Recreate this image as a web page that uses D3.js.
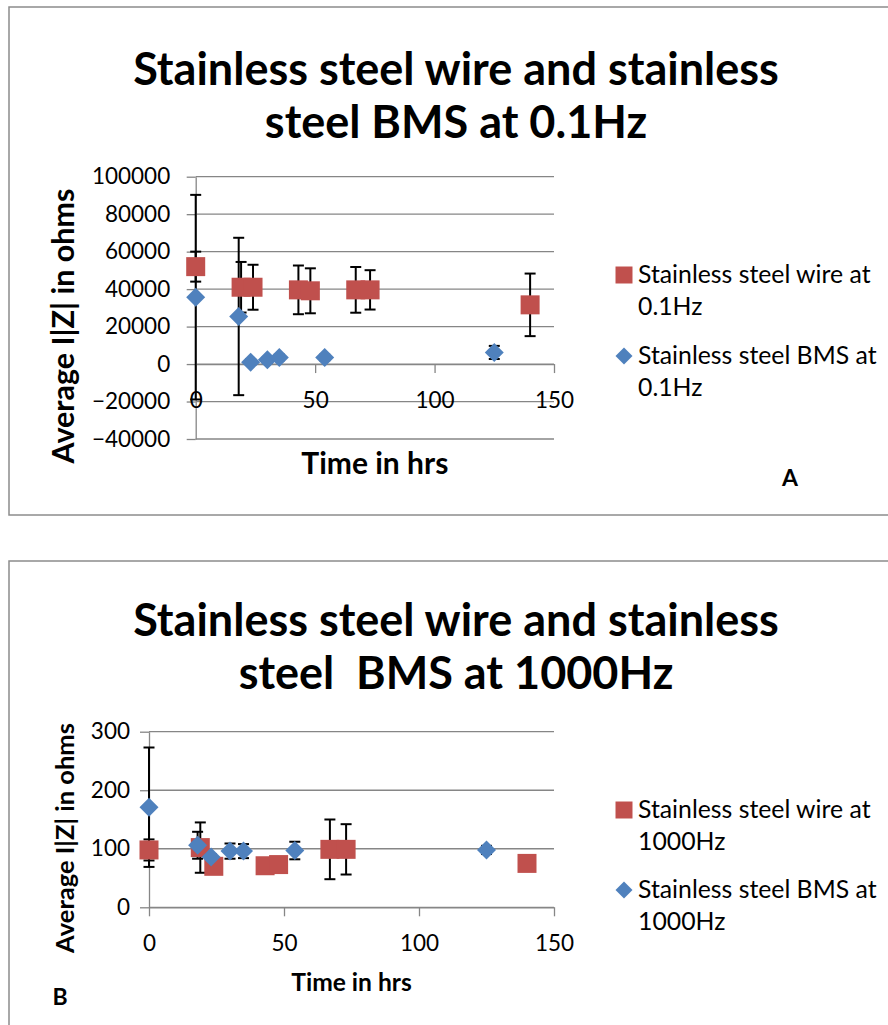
<!DOCTYPE html>
<html>
<head>
<meta charset="utf-8">
<script src="https://cdn.jsdelivr.net/npm/d3@7"></script>
<style>
  html, body { margin: 0; padding: 0; background: #fff; }
  svg { display: block; }
</style>
</head>
<body>
<svg id="chart" width="888" height="1025"></svg>
<script>
// ---- Panel A: |Z| at 0.1 Hz ----
const wireTimesA = [0, 19, 24, 43, 48, 67, 73, 140];
const wireZA     = [52000, 41000, 41000, 39600, 39100, 39600, 39600, 31600];
const wireErrA   = [8000, 13500, 12000, 13000, 12000, 12200, 10500, 16700];
const bmsTimesA  = [0, 18, 23, 30, 35, 54, 125];
const bmsZA      = [35700, 25400, 1000, 2300, 3500, 3500, 6200];
const bmsErrA    = [54600, 42000, 1500, 1500, 1500, 1500, 3500];
const yTicksA    = [-40000, -20000, 0, 20000, 40000, 60000, 80000, 100000];
const titleA     = ["Stainless steel wire and stainless", "steel BMS at 0.1Hz"];
const legendA    = [["Stainless steel wire at", "0.1Hz"], ["Stainless steel BMS at", "0.1Hz"]];

// ---- Panel B: |Z| at 1000 Hz ----
const wireTimesB = [0, 19, 24, 43, 48, 67, 73, 140];
const wireZB     = [98, 102, 70, 71, 73, 99, 99, 75];
const wireErrB   = [18, 43, 5, 5, 5, 51, 43, 5];
const bmsTimesB  = [0, 18, 23, 30, 35, 54, 125];
const bmsZB      = [171, 106, 86, 96, 96, 97, 98];
const bmsErrB    = [102, 23, 5, 13, 12, 15, 7];
const yTicksB    = [0, 100, 200, 300];
const titleB     = ["Stainless steel wire and stainless", "steel\u00a0\u00a0BMS at 1000Hz"];
const legendB    = [["Stainless steel wire at", "1000Hz"], ["Stainless steel BMS at", "1000Hz"]];

const xTicks = [0, 50, 100, 150];
const xTitle = "Time in hrs";
const yTitle = "Average I|Z| in ohms";

const FONT = "Lato, 'Open Sans', sans-serif";
const RED = "#C0504D", BLUE = "#4F81BD", GRID = "#868686";

const svg = d3.select("#chart");
svg.append("rect").attr("width", 888).attr("height", 1025).attr("fill", "#fff");

function drawPanel(p) {
  const g = svg.append("g");

  // chart frame
  g.append("rect")
    .attr("x", p.box.x).attr("y", p.box.y)
    .attr("width", p.box.w).attr("height", p.box.h)
    .attr("fill", "#fff").attr("stroke", "#8c8c8c").attr("stroke-width", 1.5);

  // title
  g.append("text")
    .attr("font-family", FONT).attr("font-weight", "bold")
    .attr("font-size", p.titleSize).attr("text-anchor", "middle")
    .selectAll("tspan").data(p.title).join("tspan")
      .attr("x", p.titleX).attr("y", (d, i) => p.titleY[i])
      .text(d => d);

  const x = d3.scaleLinear().domain([0, 150]).range([p.plot.x0, p.plot.x1]);
  const y = d3.scaleLinear().domain(p.yDomain).range([p.plot.yBot, p.plot.yTop]);

  // horizontal gridlines
  g.append("g").selectAll("line").data(p.yTicks).join("line")
    .attr("x1", p.plot.x0).attr("x2", p.plot.x1)
    .attr("y1", d => y(d)).attr("y2", d => y(d))
    .attr("stroke", GRID).attr("stroke-width", 1.3);

  // y axis
  const yAx = g.append("g")
    .attr("transform", `translate(${p.plot.x0},0)`)
    .call(d3.axisLeft(y).tickValues(p.yTicks).tickSize(9).tickSizeOuter(0)
      .tickPadding(p.yTickPad).tickFormat(d3.format("d")));
  // x axis, crossing at zero
  const xAx = g.append("g")
    .attr("transform", `translate(0,${y(0)})`)
    .call(d3.axisBottom(x).tickValues(xTicks).tickSize(9).tickSizeOuter(0)
      .tickFormat(d3.format("d")));
  xAx.selectAll(".tick text").attr("y", 44).attr("dy", 0);

  [yAx, xAx].forEach(a => {
    a.select(".domain").attr("stroke", GRID).attr("stroke-width", 1.3);
    a.selectAll(".tick line").attr("stroke", GRID).attr("stroke-width", 1.3);
    a.selectAll(".tick text").attr("fill", "#000")
      .attr("font-family", FONT).attr("font-size", p.tickSize);
  });

  // axis titles
  g.append("text")
    .attr("transform", `translate(${p.yTitlePos[0]},${p.yTitlePos[1]}) rotate(-90)`)
    .attr("text-anchor", "middle").attr("font-family", FONT)
    .attr("font-weight", "bold").attr("font-size", p.yTitleSize)
    .text(yTitle);
  g.append("text")
    .attr("x", (p.plot.x0 + p.plot.x1) / 2).attr("y", p.xTitleY)
    .attr("text-anchor", "middle").attr("font-family", FONT)
    .attr("font-weight", "bold").attr("font-size", p.xTitleSize)
    .text(xTitle);

  // panel letter
  g.append("text")
    .attr("x", p.letterPos[0]).attr("y", p.letterPos[1])
    .attr("text-anchor", "middle").attr("font-family", FONT)
    .attr("font-weight", "bold").attr("font-size", 23)
    .text(p.letter);

  const wire = p.wireT.map((t, i) => ({ t, v: p.wireZ[i], e: p.wireE[i] }));
  const bms = p.bmsT.map((t, i) => ({ t, v: p.bmsZ[i], e: p.bmsE[i] }));

  // error bars (under markers)
  const cap = 5.5;
  const eb = g.append("g").attr("stroke", "#000").attr("stroke-width", 2);
  [wire, bms].forEach(series => {
    const s = eb.append("g").selectAll("g").data(series).join("g");
    s.append("line")
      .attr("x1", d => x(d.t)).attr("x2", d => x(d.t))
      .attr("y1", d => y(d.v - d.e)).attr("y2", d => y(d.v + d.e));
    s.append("line")
      .attr("x1", d => x(d.t) - cap).attr("x2", d => x(d.t) + cap)
      .attr("y1", d => y(d.v + d.e)).attr("y2", d => y(d.v + d.e));
    s.append("line")
      .attr("x1", d => x(d.t) - cap).attr("x2", d => x(d.t) + cap)
      .attr("y1", d => y(d.v - d.e)).attr("y2", d => y(d.v - d.e));
  });

  const squareSym = d3.symbol().type(d3.symbolSquare).size(361)();
  const diamondSym = d3.symbol().type(d3.symbolSquare).size(180)();

  g.append("g").selectAll("path").data(wire).join("path")
    .attr("d", squareSym).attr("fill", RED)
    .attr("transform", d => `translate(${x(d.t)},${y(d.v)})`);
  g.append("g").selectAll("path").data(bms).join("path")
    .attr("d", diamondSym).attr("fill", BLUE)
    .attr("transform", d => `translate(${x(d.t)},${y(d.v)}) rotate(45)`);

  // legend
  const legSquare = d3.symbol().type(d3.symbolSquare).size(289)();
  const legDiamond = d3.symbol().type(d3.symbolSquare).size(144)();
  const lg = g.append("g");
  p.legend.forEach((lines, i) => {
    const cy = p.legendY[i];
    lg.append("path")
      .attr("d", i === 0 ? legSquare : legDiamond)
      .attr("fill", i === 0 ? RED : BLUE)
      .attr("transform", `translate(624,${cy})` + (i === 0 ? "" : " rotate(45)"));
    lg.append("text")
      .attr("font-family", FONT).attr("font-size", p.legendSize)
      .selectAll("tspan").data(lines).join("tspan")
        .attr("x", 638).attr("y", (d, k) => cy + 8 + k * 32)
        .text(d => d);
  });
}

drawPanel({
  box: { x: 9, y: 7, w: 900, h: 508 },
  title: titleA, titleX: 456, titleY: [85, 138], titleSize: 45,
  plot: { x0: 195.7, x1: 554, yTop: 176.7, yBot: 439 },
  yDomain: [-40000, 100000], yTicks: yTicksA, yTickPad: 16.5, tickSize: 22.5,
  yTitlePos: [74, 326], yTitleSize: 30.5, xTitleY: 474, xTitleSize: 30,
  letter: "A", letterPos: [790, 486],
  wireT: wireTimesA, wireZ: wireZA, wireE: wireErrA,
  bmsT: bmsTimesA, bmsZ: bmsZA, bmsE: bmsErrA,
  legend: legendA, legendY: [275, 356], legendSize: 24.8
});

drawPanel({
  box: { x: 9, y: 561, w: 900, h: 500 },
  title: titleB, titleX: 456, titleY: [636, 689], titleSize: 45,
  plot: { x0: 149, x1: 554, yTop: 731.7, yBot: 907.3 },
  yDomain: [0, 300], yTicks: yTicksB, yTickPad: 10, tickSize: 22.5,
  yTitlePos: [74, 838], yTitleSize: 25.5, xTitleY: 991, xTitleSize: 24.6,
  letter: "B", letterPos: [60, 1005],
  wireT: wireTimesB, wireZ: wireZB, wireE: wireErrB,
  bmsT: bmsTimesB, bmsZ: bmsZB, bmsE: bmsErrB,
  legend: legendB, legendY: [810, 890], legendSize: 24.8
});
</script>
</body>
</html>
